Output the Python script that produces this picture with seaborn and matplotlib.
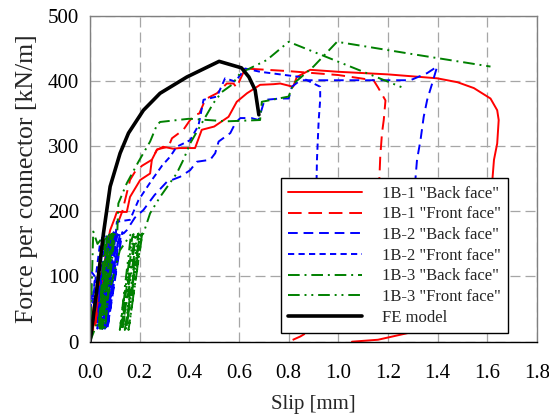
import matplotlib
matplotlib.use("Agg")
import matplotlib.pyplot as plt
import seaborn as sns

# 1B-1, back face
b1_back_x = [0, 0.01, 0.02, 0.012, 0.028, 0.022, 0.04, 0.03, 0.05, 0.045, 0.06, 0.07, 0.081,
             0.10, 0.108, 0.148, 0.161, 0.202, 0.242, 0.249, 0.269, 0.294, 0.335, 0.36,
             0.423, 0.45, 0.50, 0.558, 0.591, 0.632, 0.685, 0.74, 0.766, 0.818, 0.833,
             0.887, 1.0, 1.2, 1.398, 1.48, 1.546, 1.613, 1.64, 1.646, 1.64, 1.627, 1.60,
             1.50, 1.35, 1.277, 1.16, 1.055]
b1_back_y = [0, 40, 70, 20, 90, 25, 105, 30, 118, 40, 125, 150, 171,
             190, 199, 199, 222, 248, 258, 279, 294, 299, 296, 297,
             297, 325, 330, 345, 368, 381, 394, 395, 396, 391, 406,
             417, 414, 410, 404, 398, 389, 373, 355, 340, 304, 279, 150,
             50, 22, 13, 3, 0]

# 1B-1, front face
b1_front_x = [0, 0.02, 0.04, 0.06, 0.09, 0.11, 0.13, 0.161, 0.18, 0.21, 0.249, 0.27, 0.316,
              0.33, 0.376, 0.403, 0.423, 0.44, 0.464, 0.48, 0.511, 0.551, 0.578, 0.59, 0.625,
              0.80, 1.0, 1.142, 1.16, 1.19, 1.183, 1.176, 1.169, 1.16, 1.10, 1.0, 0.90,
              0.847, 0.80]
b1_front_y = [0, 30, 80, 110, 140, 180, 200, 248, 260, 270, 279, 295, 299,
              312, 325, 340, 348, 350, 371, 375, 381, 396, 396, 390, 419,
              415, 409, 401, 390, 370, 340, 320, 284, 200, 100, 50, 20,
              8, 0]

# 1B-2, back face
b2_back_x = [0, 0.02, 0.045, 0.035, 0.06, 0.085, 0.05, 0.09, 0.095, 0.055, 0.10, 0.105,
             0.06, 0.11, 0.115, 0.065, 0.12, 0.125, 0.07, 0.13, 0.135, 0.148, 0.18, 0.215,
             0.26, 0.309, 0.363, 0.403, 0.43, 0.484, 0.504, 0.518, 0.565, 0.585, 0.605,
             0.65, 0.679, 0.699, 0.706, 0.766, 0.80, 0.813, 0.847, 0.901, 1.1, 1.29,
             1.358, 1.398, 1.378, 1.358, 1.344, 1.331, 1.317, 1.30, 1.28]
b2_back_y = [0, 50, 100, 30, 120, 160, 20, 160, 158, 22, 163, 160,
             20, 165, 162, 22, 166, 165, 20, 168, 166, 171, 190, 202,
             225, 245, 253, 263, 276, 279, 289, 307, 320, 335, 343,
             343, 340, 366, 371, 373, 373, 391, 401, 401, 401, 401,
             412, 422, 396, 371, 345, 309, 279, 200, 150]

# 1B-2, front face
b2_front_x = [0, 0.005, 0.0, 0.02, 0.01, 0.04, 0.05, 0.03, 0.06, 0.07, 0.04, 0.075, 0.08,
              0.045, 0.085, 0.09, 0.05, 0.095, 0.10, 0.06, 0.105, 0.108, 0.161, 0.195,
              0.249, 0.29, 0.323, 0.349, 0.403, 0.437, 0.457, 0.511, 0.544, 0.585, 0.625,
              0.685, 0.847, 0.901, 0.927, 0.927, 0.921, 0.914, 0.91, 0.90]
b2_front_y = [0, 70, 110, 100, 60, 150, 160, 20, 162, 160, 20, 165, 162,
              22, 166, 165, 20, 168, 165, 25, 170, 184, 187, 217,
              248, 270, 284, 299, 309, 332, 371, 376, 404, 399, 419,
              414, 406, 396, 391, 371, 340, 279, 200, 120]

# 1B-3, back face
b3_back_x = [0, 0.005, 0.013, 0.03, 0.06, 0.035, 0.065, 0.07, 0.04, 0.075, 0.08, 0.045,
             0.085, 0.09, 0.05, 0.092, 0.095, 0.06, 0.10, 0.11, 0.114, 0.148, 0.195, 0.242,
             0.269, 0.282, 0.40, 0.55, 0.685, 0.692, 0.80, 0.82, 0.90, 0.995, 1.30, 1.613]
b3_back_y = [0, 60, 169, 150, 165, 20, 160, 165, 20, 160, 165, 20,
             163, 166, 20, 164, 168, 20, 168, 170, 212, 243, 276, 307,
             332, 337, 342, 338, 340, 368, 376, 396, 422, 460, 441, 422]

# 1B-3, front face
b3_front_x = [0, 0.02, 0.05, 0.08, 0.10, 0.12, 0.165, 0.12, 0.17, 0.175, 0.125, 0.18,
              0.185, 0.13, 0.19, 0.195, 0.14, 0.20, 0.202, 0.145, 0.205, 0.21, 0.155,
              0.21, 0.215, 0.242, 0.282, 0.349, 0.376, 0.403, 0.45, 0.497, 0.531, 0.571,
              0.605, 0.712, 0.80, 1.264]
b3_front_y = [0, 20, 50, 80, 110, 140, 165, 18, 160, 165, 18, 160,
              165, 18, 162, 166, 18, 162, 166, 18, 163, 166, 18,
              164, 166, 197, 222, 258, 279, 304, 335, 366, 383, 394,
              412, 432, 460, 389]

# Finite element prediction
fe_x = [0, 0.027, 0.054, 0.081, 0.121, 0.155, 0.215, 0.282, 0.39, 0.52, 0.61, 0.64, 0.665, 0.68]
fe_y = [0, 79, 166, 238, 289, 320, 355, 381, 406, 430, 420, 406, 386, 348]

x_ticks = [0.0, 0.2, 0.4, 0.6, 0.8, 1.0, 1.2, 1.4, 1.6, 1.8]
y_ticks = [0, 100, 200, 300, 400, 500]

sns.set_theme(style="white")
plt.rcParams["font.family"] = ["Liberation Serif", "DejaVu Serif"]

fig = plt.figure(figsize=(5.49, 4.19), dpi=100)
ax = fig.add_axes([0.164, 0.1845, 0.814, 0.778])

series = [
    (b1_back_x, b1_back_y, '1B-1 "Back face"', "#ff0000", "-", 1.4),
    (b1_front_x, b1_front_y, '1B-1 "Front face"', "#ff0000", (0, (7, 3.5)), 1.4),
    (b2_back_x, b2_back_y, '1B-2 "Back face"', "#0000ff", (0, (5, 3)), 1.4),
    (b2_front_x, b2_front_y, '1B-2 "Front face"', "#0000ff", (0, (3.2, 2.2)), 1.4),
    (b3_back_x, b3_back_y, '1B-3 "Back face"', "#008000", (0, (6, 2.5, 1, 2.5)), 1.4),
    (b3_front_x, b3_front_y, '1B-3 "Front face"', "#008000", (0, (6, 2.5, 1, 2.5, 1, 2.5)), 1.4),
    (fe_x, fe_y, "FE model", "#000000", "-", 2.6),
]
for xs, ys, lab, col, ls, lw in series:
    sns.lineplot(x=xs, y=ys, ax=ax, sort=False, estimator=None, color=col,
                 linestyle=ls, linewidth=lw, label=lab)

ax.set_xlim(0, 1.8)
ax.set_ylim(0, 500)
ax.set_xticks(x_ticks)
ax.set_xticklabels([f"{v:.1f}" for v in x_ticks])
ax.set_yticks(y_ticks)
ax.set_yticklabels([str(v) for v in y_ticks])
ax.grid(True, color="#a6a6a6", linestyle=(0, (8, 4)), linewidth=0.9)
ax.set_axisbelow(True)

for side in ["left", "top", "right"]:
    ax.spines[side].set_color("#808080")
    ax.spines[side].set_linewidth(1.0)
ax.spines["bottom"].set_color("#000000")
ax.spines["bottom"].set_linewidth(1.0)

ax.tick_params(axis="both", direction="in", length=5, width=0.8, colors="#808080",
               labelsize=15, labelcolor="black")
ax.tick_params(axis="y", pad=8)
ax.tick_params(axis="x", colors="black", labelcolor="black", pad=16)

ax.set_xlabel("Slip [mm]", fontsize=15, labelpad=9)
ax.set_ylabel("Force per connector [kN/m]", fontsize=18.5, labelpad=7)

leg = ax.legend(loc="lower left", bbox_to_anchor=(0.4266, 0.026), borderaxespad=0,
                fontsize=12, handlelength=4.4, handletextpad=1.2, labelspacing=0.28,
                frameon=True, fancybox=False, edgecolor="black", framealpha=1,
                borderpad=0.45)
leg.get_frame().set_linewidth(1.0)

fig.savefig("out.png", dpi=100)
